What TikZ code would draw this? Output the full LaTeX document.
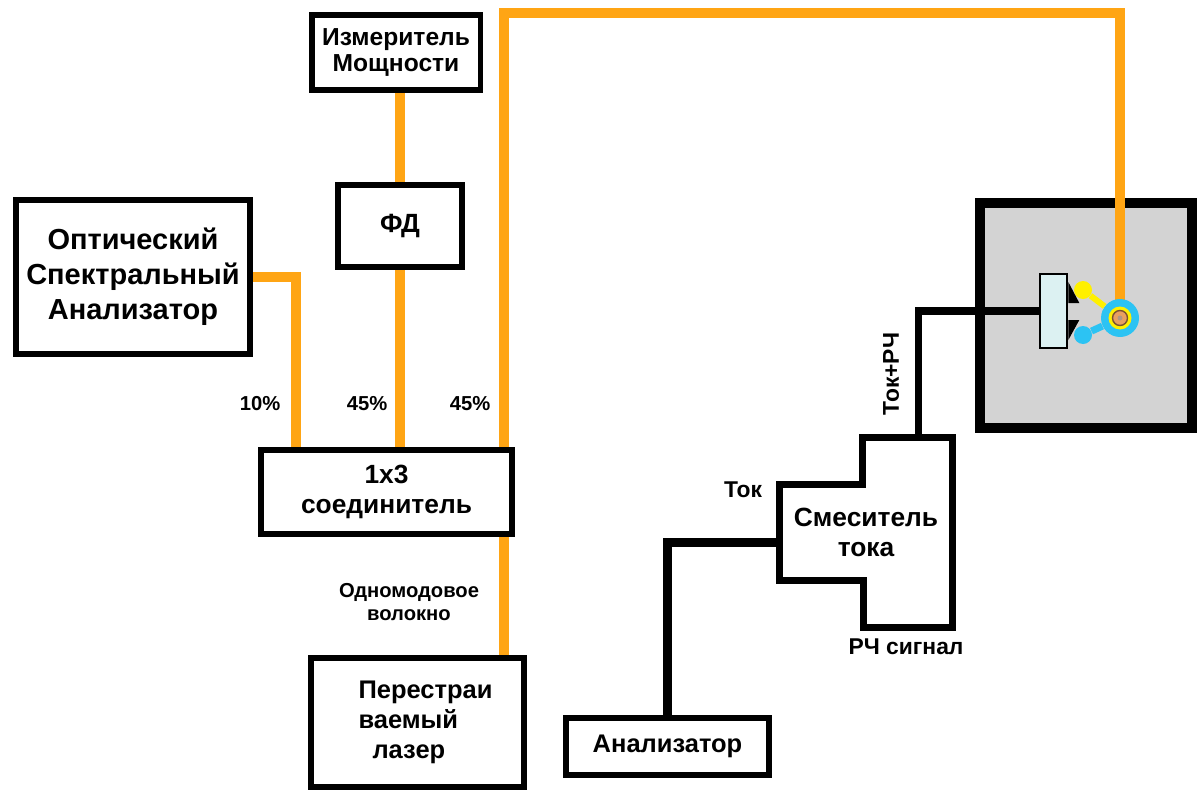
\documentclass[tikz,border=0pt]{standalone}
\usepackage{fontspec}
\setmainfont{Liberation Sans}
\usetikzlibrary{positioning,calc,backgrounds}
\definecolor{FiberOrange}{HTML}{FFA514}
\definecolor{CaseGray}{HTML}{D3D3D3}
\definecolor{ChipCyan}{HTML}{DCF1F2}
\definecolor{PinYellow}{HTML}{FFF000}
\definecolor{PinCyan}{HTML}{2CC3F3}
\definecolor{CoreBrown}{HTML}{7A5230}
\definecolor{CoreOrange}{HTML}{E9A060}

\begin{document}
\begin{tikzpicture}[x=0.02cm, y=-0.02cm,
  box/.style   = {draw, line width=3.4pt, fill=white, inner sep=0pt, align=center,
                  font=\fontsize{15}{17}\selectfont\bfseries},
  fiber/.style = {FiberOrange, line width=5.7pt},
  wire/.style  = {black, line width=4pt},
  bond/.style  = {circle, inner sep=0pt, minimum size=0.36cm},
  note/.style  = {inner sep=0pt, align=center, font=\fontsize{11.5}{13.6}\selectfont\bfseries}
]
  \useasboundingbox (0,0) rectangle (1199,794);

  \node[box, minimum width=3.38cm, minimum height=1.5cm,
        font=\fontsize{14}{15.3}\selectfont\bfseries] (pm) at (396,52.5) {Измеритель\\Мощности};
  \node[box, minimum width=2.48cm, minimum height=1.64cm] (fd) at (400,226) {ФД};
  \node[box, minimum width=4.68cm, minimum height=3.08cm,
        font=\fontsize{16.5}{20}\selectfont\bfseries] (osa) at (133,277) {Оптический\\Спектральный\\Анализатор};
  \node[box, minimum width=5.02cm, minimum height=1.68cm] (coupler) at (386.5,492) {1x3\\соединитель};
  \node[box, minimum width=4.26cm, minimum height=2.58cm, align=left,
        font=\fontsize{14.5}{17}\selectfont\bfseries] (laser) at (417.5,722.5)
        {\hspace*{0.32cm}Перестраи\\\hspace*{0.32cm}ваемый\\\hspace*{0.6cm}лазер};
  \node[box, minimum width=4.06cm, minimum height=1.14cm,
        font=\fontsize{14.5}{17}\selectfont\bfseries] (an) at (667.5,746.5) {Анализатор};

  % current mixer: tall block with a wider middle part
  \node[inner sep=0pt, minimum width=3.44cm, minimum height=1.9cm, align=center,
        font=\fontsize{15}{17}\selectfont\bfseries] (mix) at (866,532.5) {Смеситель\\тока};
  \draw[line width=3.8pt] (mix.north west) -- ++(83,0) -- ++(0,-47)
    -| ($(mix.south east)+(0,47)$) -- ++(-89,0) |- (mix.south west) -- cycle;
  \coordinate (mixtop) at ($(mix.north east)+(-34,-47)$);

  \node[note] (p10)  at (260,404) {10\%};
  \node[note] (p45a) at (367,404) {45\%};
  \node[note] (p45b) at (470,404) {45\%};
  \node[note] (smf)  at (409,602) {Одномодовое\\волокно};
  \node[note, font=\fontsize{13}{15}\selectfont\bfseries] (tok) at (743,490) {Ток};
  \node[note, font=\fontsize{13}{15}\selectfont\bfseries] (rf) at (906,647) {РЧ сигнал};
  \node[note, font=\fontsize{13}{15}\selectfont\bfseries, rotate=90] (tokrf) at (891,374) {Ток+РЧ};

  % chip and fibre end inside the case
  \node[draw, line width=1.5pt, fill=ChipCyan, inner sep=0pt,
        minimum width=0.54cm, minimum height=1.48cm] (chip) at (1053.5,311) {};
  \node[circle, fill=PinCyan, inner sep=0pt, minimum size=0.76cm] (ring) at (1120,318) {};
  \node[bond, fill=PinYellow] (ybond) at (1083,290) {};
  \node[bond, fill=PinCyan] (cbond) at (1083,335) {};
  \draw[PinYellow, line width=3.4pt] (ybond) -- (ring);
  \draw[PinCyan, line width=4pt] (cbond) -- (ring);
  \fill (chip.east |- 0,282) -- ++(0,21) -- ++(11,0) -- cycle;
  \fill (chip.east |- 0,340) -- ++(0,-20) -- ++(11,0) -- cycle;
  \fill[PinYellow] (ring) circle (0.23cm);
  \draw[CoreBrown, line width=0.8pt, fill=CoreOrange] (ring) circle (0.15cm);
  \fill[CoreBrown!60] (ring) circle (0.05cm);

  \begin{scope}[on background layer]
    \node[draw, line width=5.7pt, fill=CaseGray,
          minimum width=4.24cm, minimum height=4.5cm] (dev) at (1086,315.5) {};
    \draw[fiber] (osa.east) -| ([xshift=0.76cm]coupler.north west);
    \draw[fiber] (fd.north) -- (fd.north |- pm.south);
    \draw[fiber] (fd.south) -- (fd.south |- coupler.north);
    \draw[fiber] ([xshift=-0.22cm]coupler.north east) -- ++(0,-434) -| (ring.center);
    \draw[fiber] ([xshift=-0.22cm]coupler.south east) coordinate (s) -- (s |- laser.north);
    \draw[wire] (mixtop) |- (chip.west);
    \draw[wire, line width=5pt] (an.north) |- ($(mix.west)+(0,10)$);
  \end{scope}
\end{tikzpicture}
\end{document}
